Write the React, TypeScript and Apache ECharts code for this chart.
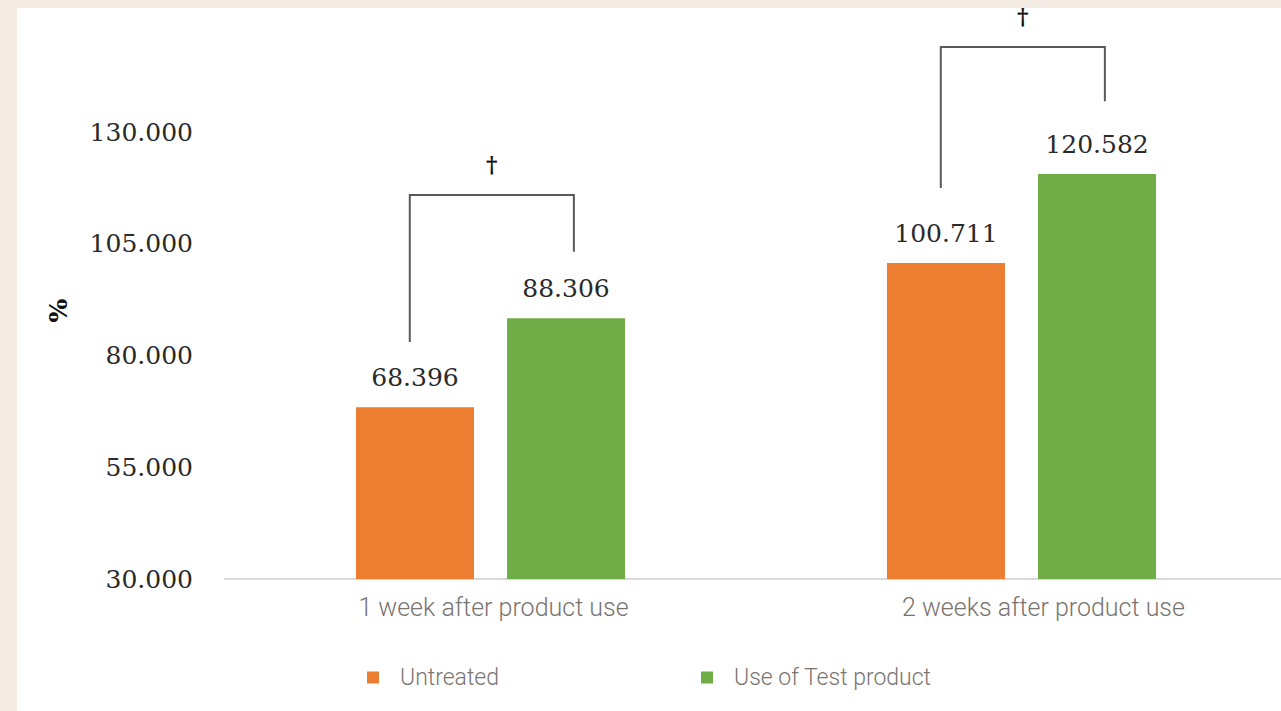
import React, { useEffect, useRef } from "react";
import * as echarts from "echarts";

const categories = ["1 week after product use", "2 weeks after product use"];
const untreated = [68.396, 100.711];
const testProduct = [88.306, 120.582];
const seriesNames = ["Untreated", "Use of Test product"];
// bracket: [category index, left leg bottom, top, right leg bottom]
const brackets = [
  [0, 83.0, 115.9, 103.2],
  [1, 117.5, 149.0, 136.9],
];
const yMin = 30;
const yMax = 130;
const yInterval = 25;

export default function App() {
  const ref = useRef<HTMLDivElement>(null);
  useEffect(() => {
    document.body.style.margin = "0";
    const chart = echarts.init(ref.current!, null, { renderer: "svg" });
    const serif = "'DejaVu Serif', 'Liberation Serif', serif";
    const sans = "Roboto, 'Noto Sans', sans-serif";
    const valueLabel = {
      show: true,
      position: "top",
      distance: 17,
      fontFamily: serif,
      fontSize: 25,
      color: "#2a2a2a",
      formatter: (p: any) => p.value.toFixed(3),
    };
    const catText = {
      fontFamily: sans,
      fontSize: 25,
      fontWeight: 300,
      color: "#7a7470",
    };
    chart.setOption({
      animation: false,
      backgroundColor: "#f4ece3",
      graphic: [
        {
          type: "rect",
          z: -10,
          shape: { x: 17, y: 8, width: 1264, height: 703 },
          style: { fill: "#ffffff" },
        },
      ],
      grid: {
        left: 225,
        width: 1062,
        top: 132,
        bottom: 132,
        outerBoundsMode: "none",
        containLabel: false,
      },
      legend: {
        left: 362,
        top: 661,
        itemWidth: 12,
        itemHeight: 12,
        itemGap: 202,
        icon: "rect",
        textStyle: {
          fontFamily: sans,
          fontSize: 23,
          fontWeight: 300,
          color: "#7a7470",
          padding: [0, 0, 0, 16],
        },
        data: seriesNames,
      },
      xAxis: {
        type: "category",
        data: categories,
        axisLine: { lineStyle: { color: "#d9d9d9", width: 2 } },
        axisTick: { show: false },
        axisLabel: {
          ...catText,
          margin: 16,
          formatter: (v: string, i: number) => (i === 0 ? `{a|${v}}` : `{b|${v}}`),
          rich: {
            a: { ...catText, padding: [0, 0, 0, 6] },
            b: { ...catText, padding: [0, 0, 0, 44] },
          },
        },
      },
      yAxis: {
        type: "value",
        min: yMin,
        max: yMax,
        interval: yInterval,
        name: "%",
        nameLocation: "middle",
        nameRotate: 90,
        nameGap: 154,
        nameTextStyle: {
          fontFamily: serif,
          fontSize: 25,
          fontWeight: "bold",
          color: "#111",
          padding: [0, 0, 0, 90],
        },
        axisLine: { show: false },
        axisTick: { show: false },
        splitLine: { show: false },
        axisLabel: {
          fontFamily: serif,
          fontSize: 25,
          color: "#2a2a2a",
          margin: 32,
          formatter: (v: number) => v.toFixed(3),
        },
      },
      series: [
        {
          name: seriesNames[0],
          type: "bar",
          data: untreated,
          barWidth: 118,
          barGap: "28%",
          itemStyle: { color: "#ED7D31" },
          label: valueLabel,
        },
        {
          name: seriesNames[1],
          type: "bar",
          data: testProduct,
          barWidth: 118,
          barGap: "28%",
          itemStyle: { color: "#70AD47" },
          label: valueLabel,
        },
        {
          type: "custom",
          clip: false,
          silent: true,
          data: brackets,
          renderItem: (params: any, api: any) => {
            const cat = api.value(0);
            const band = api.size([1, 0])[0];
            const c = api.coord([cat, api.value(2)]);
            const lb = api.coord([cat, api.value(1)]);
            const rb = api.coord([cat, api.value(3)]);
            const xl = c[0] - band * 0.152;
            const xr = c[0] + band * 0.157;
            return {
              type: "group",
              children: [
                {
                  type: "polyline",
                  shape: {
                    points: [
                      [xl, lb[1]],
                      [xl, c[1]],
                      [xr, c[1]],
                      [xr, rb[1]],
                    ],
                  },
                  style: { stroke: "#595959", lineWidth: 2, fill: "none" },
                },
                {
                  type: "text",
                  style: {
                    text: "†",
                    x: (xl + xr) / 2,
                    y: c[1] - 31,
                    align: "center",
                    verticalAlign: "middle",
                    fontFamily: serif,
                    fontSize: 22,
                    fontWeight: "bold",
                    fill: "#111",
                  },
                },
              ],
            };
          },
        },
      ],
    });
    return () => chart.dispose();
  }, []);
  return <div ref={ref} style={{ width: 1281, height: 711 }} />;
}
